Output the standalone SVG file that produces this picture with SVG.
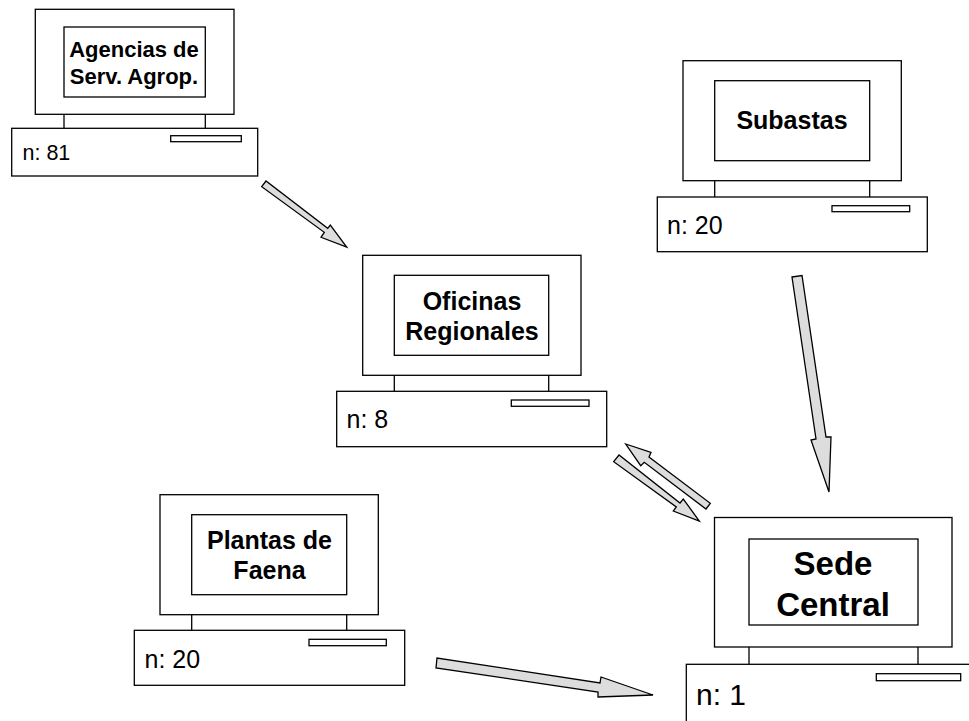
<svg xmlns="http://www.w3.org/2000/svg" width="969" height="721" viewBox="0 0 969 721">
<style>
rect,line{fill:#fff;stroke:#000;stroke-width:1.3}
.a{fill:#ddd;stroke:#000;stroke-width:1.3;stroke-linejoin:miter}
text{font-family:"Liberation Sans",Arial,sans-serif;fill:#000}
.t{font-weight:bold;text-anchor:middle}
</style>
<rect width="969" height="721" style="fill:#fff;stroke:none"/>
<g id="connectors">
<polygon class="a" points="266,181 261.700,186.700 324.300,232.300 321,237.300 346.700,247 330.300,225 327.700,228.300"/>
<polygon class="a" points="792,277 802,275.500 826,437 831,437 829,492 811,440 816,439"/>
<polygon class="a" points="625.700,444 651,452.300 649,457 710.300,503.300 706,509 644.300,462.300 640.700,465.700"/>
<polygon class="a" points="619,455 613.700,461.700 676.300,507 673.300,511 699.300,521 683.300,499 680,503"/>
<polygon class="a" points="437,658 436,668 598,692 598,697 653,695 601,677 600,683"/>
</g>
<g id="agencias">
<rect x="35.300" y="9.300" width="198.700" height="105"/><rect x="64" y="27" width="141.300" height="70"/>
<line x1="64" y1="114" x2="64" y2="128"/><line x1="205.300" y1="114" x2="205.300" y2="128"/>
<rect x="11.700" y="128.300" width="246" height="47.700"/><rect x="170.700" y="135.700" width="70.600" height="6"/>
<text class="t" x="134" y="57" font-size="22">Agencias de</text><text class="t" x="134" y="84" font-size="22">Serv. Agrop.</text>
<text x="22.500" y="160" font-size="21.500">n: 81</text>
</g>
<g id="subastas">
<rect x="683" y="60.700" width="218.300" height="120"/><rect x="714.700" y="80.700" width="155" height="80"/>
<line x1="714.700" y1="181" x2="714.700" y2="197"/><line x1="869.700" y1="181" x2="869.700" y2="197"/>
<rect x="657.300" y="197" width="270" height="54.700"/><rect x="832" y="205.700" width="77.700" height="6"/>
<text class="t" x="792" y="129" font-size="25">Subastas</text>
<text x="667" y="234" font-size="25">n: 20</text>
</g>
<g id="oficinas">
<rect x="362.700" y="255.300" width="218.300" height="120"/><rect x="394.300" y="275.300" width="154.400" height="80"/>
<line x1="394.300" y1="375.300" x2="394.300" y2="391.300"/><line x1="548.700" y1="375.300" x2="548.700" y2="391.300"/>
<rect x="336.700" y="391.300" width="270" height="55.400"/><rect x="511.300" y="400" width="77.700" height="6.300"/>
<text class="t" x="472" y="310" font-size="25">Oficinas</text><text class="t" x="472" y="339.500" font-size="25">Regionales</text>
<text x="346.500" y="427.700" font-size="25">n: 8</text>
</g>
<g id="plantas">
<rect x="160" y="494.700" width="218.300" height="120"/><rect x="191.700" y="514.700" width="155" height="80"/>
<line x1="191.700" y1="614.700" x2="191.700" y2="630.300"/><line x1="346.700" y1="614.700" x2="346.700" y2="630.300"/>
<rect x="134.300" y="630.300" width="270.400" height="55"/><rect x="309" y="639.300" width="77.300" height="6.400"/>
<text class="t" x="269.500" y="549.300" font-size="25">Plantas de</text><text class="t" x="269.500" y="579" font-size="25">Faena</text>
<text x="144.500" y="668.300" font-size="25">n: 20</text>
</g>
<g id="sede">
<rect x="714.500" y="517.500" width="237.500" height="129.500"/><rect x="749" y="539" width="169" height="86"/>
<line x1="749" y1="647" x2="749" y2="664.300"/><line x1="918" y1="647" x2="918" y2="664.300"/>
<rect x="686.300" y="664.300" width="300" height="80"/><rect x="876.300" y="673.700" width="84.400" height="7"/>
<text class="t" x="833" y="575" font-size="33">Sede</text><text class="t" x="833" y="615.500" font-size="33">Central</text>
<text x="696" y="705" font-size="30">n: 1</text>
</g>
</svg>
